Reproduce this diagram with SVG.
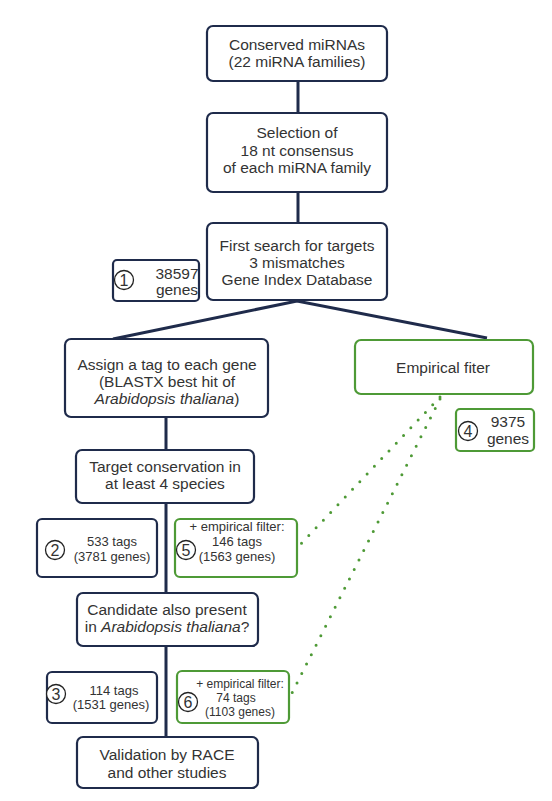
<svg xmlns="http://www.w3.org/2000/svg" width="552" height="801" viewBox="0 0 552 801">
<style>
text{font-family:"Liberation Sans",Arial,sans-serif;fill:#333;text-anchor:middle}
.m{font-size:15.5px}
.s{font-size:13px}
.t{font-size:12px}
.n{font-size:16px}
.box{fill:#fff;stroke:#1f2b4b;stroke-width:2.2}
.gbox{fill:#fff;stroke:#4e9a36;stroke-width:2.2}
.con{stroke:#1f2b4b;stroke-width:3;fill:none}
.dot{stroke:#4e9a36;stroke-width:3;stroke-linecap:round;stroke-dasharray:0 10.6;fill:none}
.c{fill:#fff;stroke:#222;stroke-width:1.3}
</style>
<rect width="552" height="801" fill="#fff"/>
<g id="connectors">
<line class="con" x1="298" y1="81" x2="298" y2="113"/>
<line class="con" x1="298" y1="192" x2="298" y2="223"/>
<polyline class="con" points="113,339 297,301 487,338"/>
<line class="con" x1="166" y1="417" x2="166" y2="737"/>
<line class="dot" x1="440" y1="397" x2="297" y2="548"/>
<line class="dot" x1="440" y1="399" x2="292" y2="693"/>
</g>
<g id="n1"><rect class="box" x="207" y="26" width="180" height="55" rx="6"/>
<text class="m" x="297" y="50">Conserved miRNAs</text><text class="m" x="297" y="67">(22 miRNA families)</text></g>
<g id="n2"><rect class="box" x="207" y="113" width="180" height="79" rx="6"/>
<text class="m" x="297" y="138">Selection of</text><text class="m" x="297" y="156">18 nt consensus</text><text class="m" x="297" y="173">of each miRNA family</text></g>
<g id="n3"><rect class="box" x="207" y="223" width="180" height="77" rx="6"/>
<text class="m" x="297" y="251">First search for targets</text><text class="m" x="297" y="268">3 mismatches</text><text class="m" x="297" y="285">Gene Index Database</text></g>
<g id="b1"><rect class="box" x="113" y="260" width="86" height="41" rx="4"/>
<circle class="c" cx="124" cy="280" r="9.5"/><text class="n" x="124" y="285.5">1</text>
<text class="m" x="177" y="279">38597</text><text class="m" x="177" y="295">genes</text></g>
<g id="n4"><rect class="box" x="65" y="339" width="203" height="78" rx="6"/>
<text class="m" x="167" y="370">Assign a tag to each gene</text><text class="m" x="167" y="387">(BLASTX best hit of</text><text class="m" x="167" y="404"><tspan font-style="italic">Arabidopsis thaliana</tspan>)</text></g>
<g id="n5"><rect class="gbox" x="355" y="340" width="178" height="54" rx="6"/>
<text class="m" x="443" y="373">Empirical fiter</text></g>
<g id="b4"><rect class="gbox" x="456" y="409" width="78" height="42" rx="4"/>
<circle class="c" cx="468" cy="431" r="9.5"/><text class="n" x="468" y="436.5">4</text>
<text class="m" x="508" y="427">9375</text><text class="m" x="508" y="444">genes</text></g>
<g id="n6"><rect class="box" x="76" y="450" width="178" height="53" rx="6"/>
<text class="m" x="165" y="472">Target conservation in</text><text class="m" x="165" y="489">at least 4 species</text></g>
<g id="b2"><rect class="box" x="37" y="519" width="120" height="58" rx="5"/>
<circle class="c" cx="55" cy="550" r="9.5"/><text class="n" x="55" y="555.5">2</text>
<text class="s" x="112" y="546">533 tags</text><text class="s" x="112" y="561">(3781 genes)</text></g>
<g id="b5"><rect class="gbox" x="175" y="519" width="122" height="58" rx="5"/>
<circle class="c" cx="186" cy="550" r="9.5"/><text class="n" x="186" y="555.5">5</text>
<text class="s" x="237" y="531">+ empirical filter:</text><text class="s" x="237" y="546">146 tags</text><text class="s" x="237" y="561">(1563 genes)</text></g>
<g id="n7"><rect class="box" x="77" y="593" width="181" height="53" rx="6"/>
<text class="m" x="167" y="615">Candidate also present</text><text class="m" x="167" y="632">in <tspan font-style="italic">Arabidopsis thaliana</tspan>?</text></g>
<g id="b3"><rect class="box" x="47" y="672" width="110" height="51" rx="5"/>
<circle class="c" cx="56" cy="694" r="9.5"/><text class="n" x="56" y="699.5">3</text>
<text class="s" x="114" y="695">114 tags</text><text class="s" x="111" y="709">(1531 genes)</text></g>
<g id="b6"><rect class="gbox" x="177" y="671" width="112" height="52" rx="5"/>
<circle class="c" cx="188" cy="702" r="9.5"/><text class="n" x="188" y="707.5">6</text>
<text class="t" x="240" y="688">+ empirical filter:</text><text class="t" x="236" y="702">74 tags</text><text class="t" x="240" y="716">(1103 genes)</text></g>
<g id="n8"><rect class="box" x="77" y="737" width="181" height="51" rx="6"/>
<text class="m" x="167" y="760">Validation by RACE</text><text class="m" x="167" y="778">and other studies</text></g>
</svg>
